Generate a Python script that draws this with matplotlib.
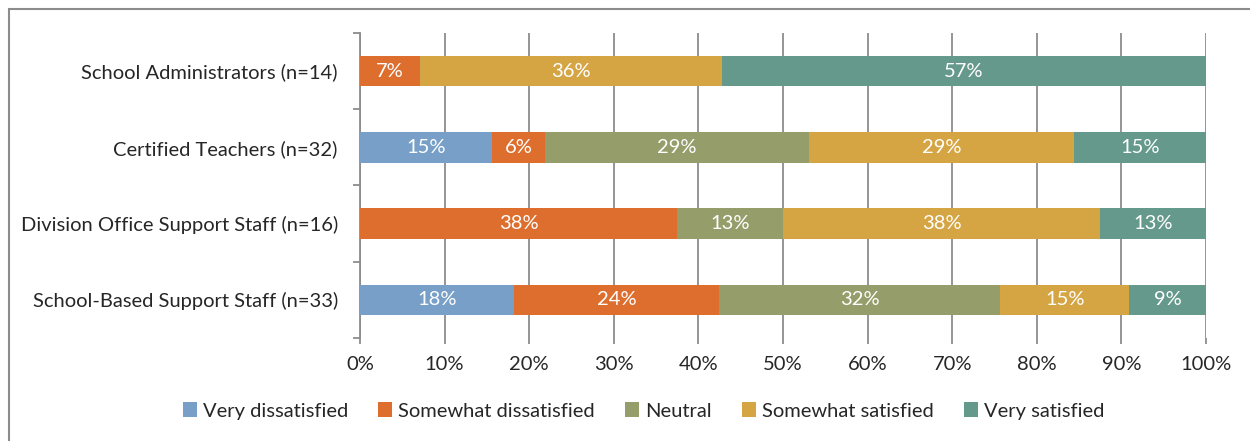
import matplotlib.pyplot as plt
from matplotlib.patches import Rectangle
from matplotlib.ticker import FixedLocator, PercentFormatter

plt.rcParams['font.family'] = ['Lato', 'DejaVu Sans']

groups = ['School Administrators (n=14)', 'Certified Teachers (n=32)',
          'Division Office Support Staff (n=16)', 'School-Based Support Staff (n=33)']
responses = ['Very dissatisfied', 'Somewhat dissatisfied', 'Neutral',
             'Somewhat satisfied', 'Very satisfied']
colors = ['#779fc7', '#de6e2e', '#959e6a', '#d6a543', '#65998c']

# share of each group per response (bar lengths, %)
very_dis = [0.0, 15.6, 0.0, 18.2]
some_dis = [7.1, 6.3, 37.5, 24.2]
neutral = [0.0, 31.2, 12.5, 33.3]
some_sat = [35.7, 31.3, 37.5, 15.2]
very_sat = [57.2, 15.6, 12.5, 9.1]

# labels as printed on the chart
lab_very_dis = ['', '15%', '', '18%']
lab_some_dis = ['7%', '6%', '38%', '24%']
lab_neutral = ['', '29%', '13%', '32%']
lab_some_sat = ['36%', '29%', '38%', '15%']
lab_very_sat = ['57%', '15%', '13%', '9%']

series = [very_dis, some_dis, neutral, some_sat, very_sat]
labels = [lab_very_dis, lab_some_dis, lab_neutral, lab_some_sat, lab_very_sat]

fs = 14.5
txt = '#262626'

fig = plt.figure(figsize=(12.5, 4.41), dpi=100)
ax = fig.add_axes([0.288, 0.2336, 0.6768, 0.6916])

ypos = list(range(len(groups)))
left = [0.0] * len(groups)
for vals, labs, col, name in zip(series, labels, colors, responses):
    bars = ax.barh(ypos, vals, left=left, height=0.4, color=col, label=name, zorder=3)
    ax.bar_label(bars, labels=labs, label_type='center', color='white', fontsize=fs)
    left = [a + b for a, b in zip(left, vals)]

ax.set_xlim(0, 100)
ax.set_ylim(len(groups) - 0.5, -0.5)
ax.set_xticks(range(0, 101, 10))
ax.xaxis.set_major_formatter(PercentFormatter(decimals=0))
ax.set_yticks(ypos)
ax.set_yticklabels(groups)
ax.yaxis.set_minor_locator(FixedLocator([i - 0.5 for i in range(len(groups) + 1)]))

grid_col = '#8c8c8c'
ax.grid(axis='x', color=grid_col, linewidth=1.3, zorder=0)
ax.set_axisbelow(True)
for s in ['top', 'right', 'bottom']:
    ax.spines[s].set_visible(False)
ax.spines['left'].set_color(grid_col)
ax.spines['left'].set_linewidth(1.3)

ax.tick_params(axis='y', which='major', length=0, pad=16, labelsize=fs, labelcolor=txt)
ax.tick_params(axis='y', which='minor', length=5, width=1.3, color=grid_col)
ax.tick_params(axis='x', length=4, width=1.3, color=grid_col, pad=9, labelsize=fs,
               labelcolor=txt)

fig.legend(loc='center', bbox_to_anchor=(0.515, 0.068), ncol=5, frameon=False,
           fontsize=fs, handlelength=0.7, handleheight=0.7, handletextpad=0.3,
           columnspacing=1.5, labelcolor=txt)

# outer chart border (runs off the right and bottom edges)
fig.patches.append(Rectangle((9 / 1250, -0.1), 1.2, 1.0 - 9 / 441 + 0.1,
                             transform=fig.transFigure, fill=False,
                             edgecolor='#8c8c8c', linewidth=1.5))

fig.savefig('out.png', dpi=100)
